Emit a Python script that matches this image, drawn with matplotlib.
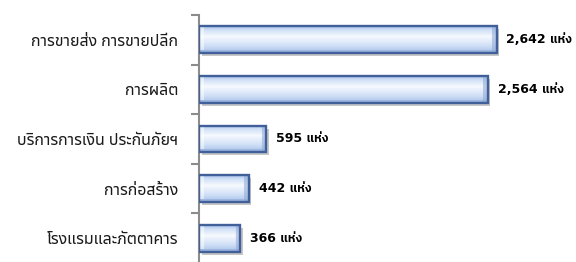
import numpy as np
import matplotlib
matplotlib.use("Agg")
import matplotlib.pyplot as plt
from matplotlib.patches import Rectangle
from matplotlib.colors import to_rgb
import matplotlib.transforms as mtransforms

categories = ["การขายส่ง การขายปลีก", "การผลิต", "บริการการเงิน ประกันภัยฯ",
              "การก่อสร้าง", "โรงแรมและภัตตาคาร"]
values = [2642, 2564, 595, 442, 366]
value_labels = ["2,642 แห่ง", "2,564 แห่ง", "595 แห่ง", "442 แห่ง", "366 แห่ง"]

THAI = ["Noto Sans Thai UI", "Noto Sans Thai", "DejaVu Sans"]
LATIN_THAI = ["DejaVu Sans", "IBM Plex Sans Thai", "Noto Sans Thai"]

W, H = 576, 262
fig = plt.figure(figsize=(W / 100, H / 100), dpi=100)
ax_left, ax_top, ax_bottom, ax_right = 199, 15, 263, 537
ax = fig.add_axes([ax_left / W, (H - ax_bottom) / H,
                   (ax_right - ax_left) / W, (ax_bottom - ax_top) / H])

xmax = 3000
bar_h = 0.54
px_per_unit = (ax_right - ax_left) / xmax
px_per_cat = (ax_bottom - ax_top) / len(categories)


def bar_image(width_px, height_px):
    wpx = max(int(round(width_px)), 4)
    hpx = max(int(round(height_px)), 4)
    stops = [0.0, 0.12, 0.38, 0.72, 1.0]
    cols = np.array([to_rgb(c) for c in ["#A9C3EA", "#CEDFF6", "#F6F9FE", "#D2E1F7", "#A8C1E8"]])
    t = np.linspace(0, 1, hpx)
    grad = np.stack([np.interp(t, stops, cols[:, k]) for k in range(3)], axis=1)
    img = np.repeat(grad[:, None, :], wpx, axis=1)
    bev = 5
    X, Y = np.meshgrid(np.arange(wpx), np.arange(hpx))
    dark = np.array(to_rgb("#8AA6D4"))
    right = (wpx - 1 - X) < bev
    img[right] = img[right] * 0.45 + dark * 0.55
    bottom = (hpx - 1 - Y) < 3
    img[bottom] = img[bottom] * 0.5 + dark * 0.5
    left = X < bev
    light = np.array([1.0, 1.0, 1.0])
    img[left & ~bottom] = img[left & ~bottom] * 0.5 + light * 0.5
    return img


shadow_tr = mtransforms.offset_copy(ax.transData, fig=fig, x=2.5, y=-3, units="dots")
for i, v in enumerate(values):
    y0 = i - bar_h / 2
    sh = Rectangle((0, y0), v, bar_h, transform=shadow_tr, facecolor="#000000",
                   alpha=0.22, edgecolor="none", zorder=1)
    ax.add_patch(sh)
    img = bar_image(v * px_per_unit, bar_h * px_per_cat)
    im = ax.imshow(img, extent=(0, v, i + bar_h / 2, i - bar_h / 2), origin="upper",
                   aspect="auto", zorder=2, interpolation="bilinear")
    rect = Rectangle((0, y0), v, bar_h, facecolor="none", edgecolor="#41609A",
                     linewidth=1.7, zorder=3)
    ax.add_patch(rect)
    im.set_clip_path(rect)
    ax.annotate(value_labels[i], xy=(v, i), xytext=(7, 0), textcoords="offset points",
                ha="left", va="center", fontsize=9, fontweight="bold",
                family=LATIN_THAI, color="#000000")

ax.set_xlim(0, xmax)
ax.set_ylim(len(categories) - 0.5, -0.5)

for s in ["top", "right", "bottom"]:
    ax.spines[s].set_visible(False)
ax.spines["left"].set_color("#8C8C8C")
ax.spines["left"].set_linewidth(1.5)
ax.set_xticks([])
ax.set_yticks(np.arange(-0.5, len(categories) + 0.5, 1.0))
ax.set_yticklabels([])
ax.tick_params(axis="y", which="major", length=6, width=1.5, color="#8C8C8C")
ax.set_yticks(np.arange(len(categories)), minor=True)
ax.set_yticklabels(categories, minor=True, family=THAI, fontsize=11.5, color="#1A1A1A")
ax.tick_params(axis="y", which="minor", length=0, pad=15)
ax.patch.set_alpha(0)

fig.savefig("out.png", dpi=100)
